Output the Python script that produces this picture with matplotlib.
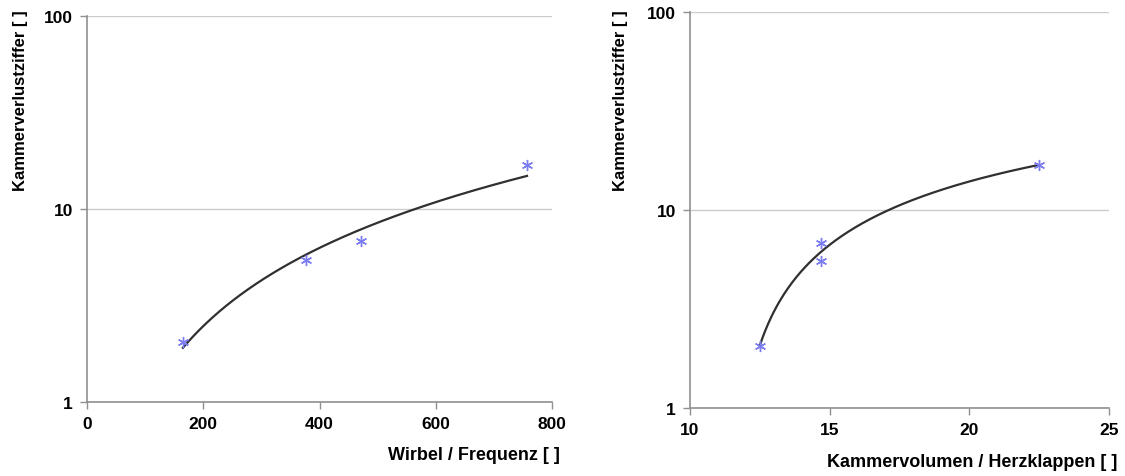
import numpy as np
import matplotlib
matplotlib.use("Agg")
import matplotlib.pyplot as plt

plt.rcParams['font.family'] = ['Liberation Sans', 'DejaVu Sans']
plt.rcParams['font.weight'] = 'bold'

# Left chart data
wirbel_freq = [165, 376, 471, 757]
verlust_left = [2.05, 5.45, 6.8, 16.9]

# Right chart data
kammer_herz = [12.5, 14.7, 14.7, 22.5]
verlust_right = [2.05, 6.85, 5.5, 16.9]

ylabel = "Kammerverlustziffer [ ]"
xlabel_left = "Wirbel / Frequenz [ ]"
xlabel_right = "Kammervolumen / Herzklappen [ ]"
xticks_left = [0, 200, 400, 600, 800]
xticks_right = [10, 15, 20, 25]
yticks = [1, 10, 100]

fig = plt.figure(figsize=(11.25, 4.77), dpi=100)
ax1 = fig.add_axes([87/1125, 1-403/477, (552-87)/1125, (403-17)/477])
ax2 = fig.add_axes([690/1125, 1-409/477, (1109-690)/1125, (409-13)/477])

marker_color = '#7b7bf2'
line_color = '#303030'
grid_color = '#cccccc'
spine_color = '#909090'


def style(ax, xticks, xlim, xlabel, xl_coords, yl_coords):
    ax.set_yscale('log')
    ax.set_ylim(1, 100)
    ax.set_xlim(*xlim)
    ax.set_xticks(xticks)
    ax.set_yticks(yticks)
    ax.set_yticklabels([str(t) for t in yticks])
    ax.yaxis.set_minor_locator(matplotlib.ticker.NullLocator())
    ax.grid(axis='y', which='major', color=grid_color, linewidth=1)
    ax.set_axisbelow(True)
    for s in ['top', 'right']:
        ax.spines[s].set_visible(False)
    for s in ['left', 'bottom']:
        ax.spines[s].set_color(spine_color)
        ax.spines[s].set_linewidth(1.2)
    ax.tick_params(axis='both', colors=spine_color, labelcolor='black',
                   length=5, width=1, labelsize=12.5, pad=5)
    for lab in ax.get_xticklabels() + ax.get_yticklabels():
        lab.set_fontweight('bold')
    ax.set_xlabel(xlabel, fontsize=13, fontweight='bold', loc='right')
    ax.xaxis.set_label_coords(*xl_coords)
    ax.set_ylabel(ylabel, fontsize=12, fontweight='bold', loc='top')
    ax.yaxis.set_label_coords(*yl_coords)
    ax.patch.set_alpha(0)


# Left: power trend line
x1 = np.array(wirbel_freq, float)
y1 = np.array(verlust_left, float)
b, lna = np.polyfit(np.log(x1), np.log(y1), 1)
xs1 = np.linspace(x1.min(), x1.max(), 200)
ax1.plot(xs1, np.exp(lna) * xs1 ** b, color=line_color, lw=1.6, zorder=2)
ax1.plot(x1, y1, linestyle='none', marker=(6, 2, 0), markersize=8,
         markeredgecolor=marker_color, markeredgewidth=1.0, zorder=3)
style(ax1, xticks_left, (0, 800), xlabel_left,
      ((560-87)/465, (403-447)/386), ((28-87)/465, (403-10)/386))

# Right: logarithmic trend line
x2 = np.array(kammer_herz, float)
y2 = np.array(verlust_right, float)
a2, c2 = np.polyfit(np.log(x2), y2, 1)
xs2 = np.linspace(x2.min(), x2.max(), 200)
ax2.plot(xs2, a2 * np.log(xs2) + c2, color=line_color, lw=1.6, zorder=2)
ax2.plot(x2, y2, linestyle='none', marker=(6, 2, 0), markersize=8,
         markeredgecolor=marker_color, markeredgewidth=1.0, zorder=3)
style(ax2, xticks_right, (10, 25), xlabel_right,
      ((1117-690)/419, (409-454)/396), ((628-690)/419, (409-10)/396))

fig.savefig('out.png', dpi=100)
